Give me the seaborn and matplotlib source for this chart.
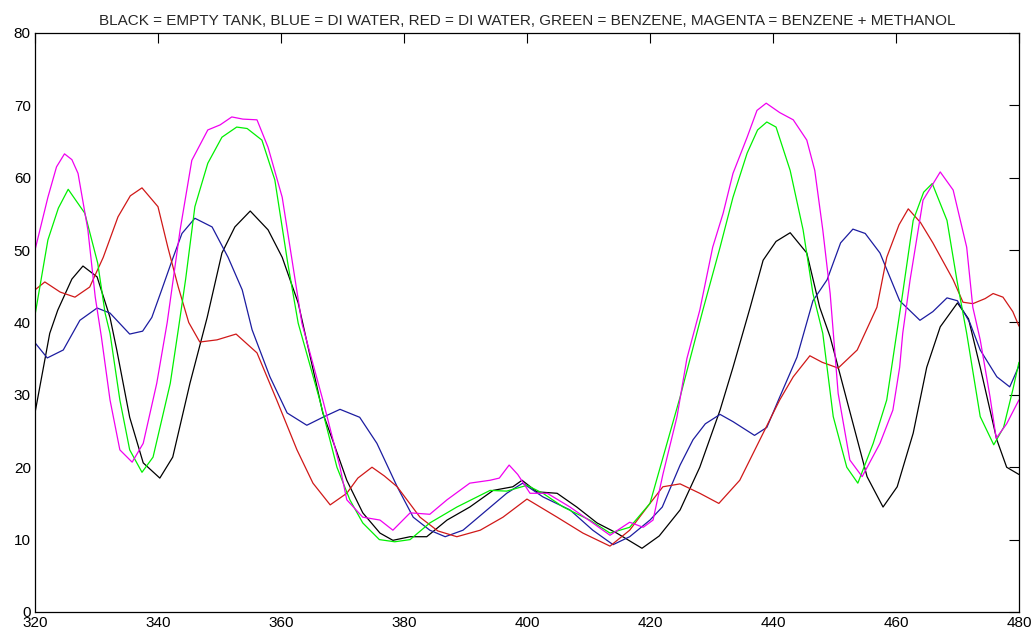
import matplotlib
matplotlib.use("Agg")
import matplotlib.pyplot as plt
import seaborn as sns
import pandas as pd

# Wavelength samples (x) and intensity readings (y) for each configuration
black_x = [320, 322.4, 323.7, 326, 327.8, 330.1, 332.2, 333.3, 335.4, 337.6, 340.3, 342.4, 345.2, 348,
           350.4, 352.5, 355, 357.9, 360.2, 362.8, 366.8, 368.5, 370.7, 373.3, 376.1, 378.2,
           381, 383.7, 387, 390.7, 394.5, 397.7, 399.2, 401.6, 404.9, 408.1, 411.4, 414.6, 418.7,
           421.5, 424.9, 428.1, 431.4, 433.5, 436.3, 438.4, 440.5, 442.8, 445.5, 447.6, 449.3, 452,
           455.3, 457.9, 460.2, 462.8, 465, 467.2, 470, 471.8, 473.7, 476.4, 478, 480]
black_y = [27.5, 38.5, 41.7, 46, 47.8, 46.3, 40.7, 36.2, 26.9, 20.6, 18.5, 21.4, 31.6, 40.7,
           49.6, 53.2, 55.4, 52.8, 49, 42.7, 27.5, 23.5, 18.2, 13.7, 10.9, 9.9,
           10.4, 10.4, 12.7, 14.5, 16.8, 17.3, 18.2, 16.6, 16.4, 14.5, 12.3, 10.9, 8.8,
           10.5, 14.1, 20, 27.9, 33.8, 42.1, 48.6, 51.2, 52.4, 49.6, 42.1, 38, 29.3,
           18.7, 14.5, 17.3, 24.7, 33.8, 39.4, 42.7, 40.5, 33.8, 23.8, 20, 19]

blue_x = [320, 322, 324.6, 327.3, 330.1, 332.2, 335.4, 337.5, 339, 340.6, 342.3, 343.9, 346, 348.8,
          351.4, 353.7, 355.3, 358.2, 361, 364.2, 366.8, 369.6, 372.8, 375.6, 378.9, 381.5, 384.2,
          386.7, 389.6, 393.5, 396.7, 399.3, 402.6, 407, 410.7, 414, 416.7, 420, 422, 424.9, 427,
          429, 431.4, 433.5, 437, 439, 441.1, 443.9, 446.5, 448.8, 451, 453, 455, 457.4, 460.6,
          463.9, 466, 468.3, 470, 472, 473.7, 476.4, 478.5, 480]
blue_y = [37.2, 35.1, 36.2, 40.3, 42, 41.3, 38.4, 38.8, 40.7, 44.5, 48.6, 52.3, 54.4, 53.2,
          49, 44.5, 39, 32.5, 27.5, 25.8, 26.9, 28, 26.9, 23.3, 17.3, 13.1, 11.3,
          10.4, 11.3, 14.1, 16.4, 17.8, 15.9, 14.1, 11.3, 9.3, 10.4, 12.7, 14.5, 20.3, 23.8,
          26, 27.3, 26.3, 24.4, 25.5, 29.7, 35.2, 43, 45.9, 51, 52.9, 52.3, 49.6, 43,
          40.3, 41.5, 43.4, 43, 40, 36.2, 32.5, 31.1, 34]

red_x = [320, 321.6, 324.1, 326.5, 328.9, 331.1, 333.5, 335.5, 337.4, 340, 341.6, 343.3, 345, 346.8,
         349.6, 352.7, 356.1, 359.3, 362.6, 365.2, 368, 370.7, 372.5, 374.8, 376.8, 378.9, 382.6,
         385.5, 388.6, 392.4, 396.1, 400, 404.9, 409.1, 413.5, 416.7, 420, 422.1, 424.9, 428.1,
         431.2, 434.6, 438.4, 441.1, 443.3, 446, 448, 450.6, 453.7, 456.9, 458.5, 460.5, 462, 464,
         466, 469.3, 470.9, 472.5, 474.5, 475.8, 477.4, 479, 480]
red_y = [44.5, 45.6, 44.2, 43.5, 44.9, 49, 54.6, 57.5, 58.6, 56, 50.4, 44.9, 40, 37.3,
         37.6, 38.4, 35.8, 29.3, 22.4, 17.8, 14.8, 16.4, 18.5, 20, 18.8, 17.3, 13.1,
         11.2, 10.4, 11.3, 13.1, 15.6, 13.1, 10.9, 9.1, 11.3, 15, 17.3, 17.7, 16.4,
         15, 18.2, 24.7, 29.3, 32.5, 35.4, 34.5, 33.7, 36.2, 42.1, 49, 53.5, 55.7, 53.8,
         51, 45.9, 42.8, 42.6, 43.3, 44, 43.5, 41.5, 39.5]

green_x = [320, 322.1, 323.8, 325.4, 328.1, 330.2, 331.4, 332.2, 333.8, 335.4, 337.4, 339.2, 342,
           343.3, 344.5, 346, 348.1, 350.4, 352.8, 354.5, 356.9, 359, 361.1, 362.8, 366.3, 369.1,
           371.2, 373.3, 376, 378.5, 381, 384.2, 388.6, 394, 396.7, 400, 402.6, 405.9, 410.2,
           413.5, 416.7, 420, 422, 424.9, 428.6, 431.4, 433.5, 435.8, 437.5, 439, 440.5, 442.8,
           444.9, 446.5, 448.1, 449.8, 452, 453.8, 456.3, 458.5, 461, 462.8, 464.5, 465.9, 468.3,
           469.9, 471.5, 473.7, 475.9, 477.5, 479, 480]
green_y = [41, 51.4, 55.8, 58.4, 55.1, 48.2, 41.3, 38.5, 29.3, 22.4, 19.3, 21.4, 31.6,
           39, 46, 56, 62, 65.6, 67, 66.8, 65.2, 59.7, 48.2, 39.9, 29.3, 20,
           15.5, 12.3, 10, 9.7, 10, 12.3, 14.5, 16.8, 16.7, 17.5, 16.4, 14.5, 12.7,
           10.9, 11.7, 15, 21, 29.7, 41.7, 50.4, 57.3, 63.4, 66.6, 67.7, 67, 61,
           52.8, 44, 38.5, 27, 20, 17.8, 23.3, 29.3, 43.5, 54.1, 58, 59.2, 54.1,
           45.9, 38.5, 27, 23.1, 25.5, 30.7, 34.5]

magenta_x = [320, 322.1, 323.5, 324.8, 326, 327, 328.6, 329.8, 330.8, 332.2, 333.8, 335.8, 337.6,
             339.8, 341.5, 343.6, 345.5, 348.1, 350.1, 352, 353.8, 356.1, 357.9, 360.2, 362.3,
             363.4, 366.8, 369.6, 370.7, 373.3, 376.1, 378.2, 381, 384.2, 387, 390.7, 394, 395.5,
             397.1, 398.5, 400.5, 403.3, 407, 410.7, 413.5, 416.7, 418.9, 420.5, 422.1, 424.4,
             426, 428.1, 430.2, 431.9, 433.5, 435.8, 437.4, 438.9, 441.1, 443.3, 445.5, 446.8,
             448.1, 449.3, 450.6, 452.5, 454.5, 457.4, 459.5, 460.6, 461.1, 462.3, 464.4, 467.2,
             469.3, 471.5, 472.5, 473.7, 475.3, 476.3, 478, 480]
magenta_y = [50, 57.3, 61.5, 63.3, 62.5, 60.6, 52.8, 43.5, 38, 29.3, 22.4, 20.7, 23.3,
             31.6, 40, 52.8, 62.4, 66.6, 67.3, 68.4, 68.1, 68, 64.2, 57.3, 45.9,
             39.9, 29.3, 20, 15.5, 13.1, 12.7, 11.3, 13.7, 13.5, 15.5, 17.8, 18.2, 18.5,
             20.3, 19, 16.4, 16.4, 14.5, 12.3, 10.6, 12.4, 11.7, 12.7, 19, 27,
             35, 41.7, 50.4, 55.1, 60.6, 65.6, 69.3, 70.3, 69, 68, 65.2, 61,
             52.8, 44, 30.2, 21, 18.7, 23.3, 27.9, 33.8, 38.5, 45.9, 56.9, 60.8,
             58.3, 50.4, 42.1, 37.6, 29.7, 24, 26, 29.3]

series = {
    "black": (black_x, black_y),
    "blue": (blue_x, blue_y),
    "red": (red_x, red_y),
    "green": (green_x, green_y),
    "magenta": (magenta_x, magenta_y),
}
line_colors = {
    "black": "#000000",
    "blue": "#1c1ca0",
    "red": "#d01818",
    "green": "#00f000",
    "magenta": "#f000f0",
}

frames = []
for name, (xs, ys) in series.items():
    frames.append(pd.DataFrame({"wavelength": xs, "intensity": ys, "sample": name}))
df = pd.concat(frames, ignore_index=True)

sns.set_style("white")
plt.rcParams["font.family"] = ["Liberation Sans", "DejaVu Sans"]

fig = plt.figure(figsize=(10.35, 6.33), dpi=100)
ax = fig.add_axes([0.0338, 0.0332, 0.9507, 0.9147])

sns.lineplot(data=df, x="wavelength", y="intensity", hue="sample", palette=line_colors,
             units="sample", estimator=None, sort=False, linewidth=0.9, legend=False, ax=ax)

ax.set_xlim(320, 480)
ax.set_ylim(0, 80)
ax.set_xticks(range(320, 481, 20))
ax.set_yticks(range(0, 81, 10))
ax.set_xlabel("")
ax.set_ylabel("")
ax.tick_params(direction="in", length=7.5, width=0.8, top=True, right=True,
               labelsize=11, pad=3, colors="black")
for side in ax.spines.values():
    side.set_color("black")
    side.set_linewidth(0.9)

ax.set_title("BLACK = EMPTY TANK, BLUE = DI WATER, RED = DI WATER, GREEN = BENZENE, "
             "MAGENTA = BENZENE + METHANOL", fontsize=11, pad=6)

fig.savefig("out.png", dpi=100, facecolor="white")
